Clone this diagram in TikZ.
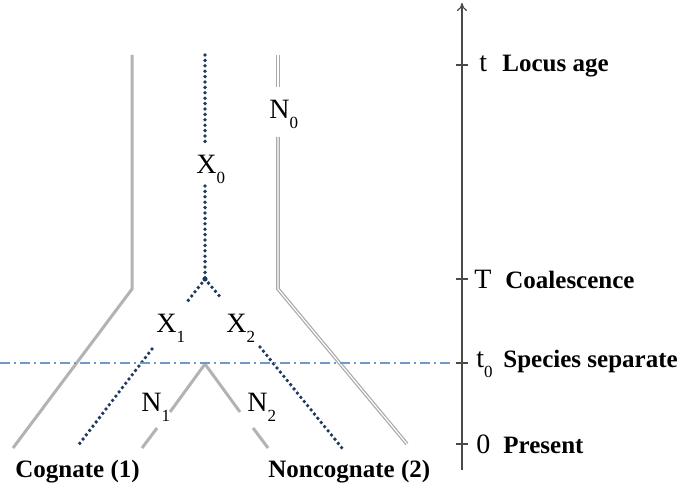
\documentclass[tikz,border=0pt]{standalone}
\usepackage{fontspec}
\setmainfont{Liberation Serif}
\usetikzlibrary{arrows.meta}
\definecolor{lgray}{HTML}{B3B3B3}
\definecolor{dgray}{HTML}{A8A8A8}
\definecolor{dnavy}{HTML}{1F3A60}
\definecolor{dblue}{HTML}{6F98CC}
\definecolor{axgray}{HTML}{4A4A4A}
\newcommand{\sbx}[1]{\raisebox{-5pt}{\fontsize{8.5}{9}\selectfont #1}}
\begin{document}
\begin{tikzpicture}[x=0.5pt,y=-0.5pt,
  gline/.style={draw=lgray,line width=1.5pt,line join=miter},
  dblline/.style={draw=dgray,double=white,double distance=0.6pt,line width=0.6pt},
  dotline/.style={draw=dnavy,line width=1.9pt,dash pattern=on 0pt off 2.7pt,line cap=round},
  sepline/.style={draw=dblue,line width=1.2pt,dash pattern=on 5pt off 2pt on 1pt off 2pt},
  axisline/.style={draw=axgray,line width=0.6pt},
  lab/.style={font=\fontsize{14}{16}\selectfont,inner sep=0pt,anchor=base west},
  blab/.style={font=\fontsize{12.5}{14}\selectfont\bfseries,inner sep=0pt,anchor=base west},
]
\useasboundingbox (0,0) rectangle (680,492);

% coordinates
\coordinate (L0) at (132,55);
\coordinate (L1) at (132,289);
\coordinate (L2) at (13,448);
\coordinate (R0) at (278,55);
\coordinate (R0b) at (278,87);
\coordinate (R1a) at (278,137);
\coordinate (R1) at (278,289);
\coordinate (R2) at (407,444);
\coordinate (C0) at (205,55);
\coordinate (C0b) at (205,142);
\coordinate (C1a) at (205,186);
\coordinate (C1) at (205,279);
\coordinate (XL1) at (187,302);
\coordinate (XL2) at (152,349);
\coordinate (XL3) at (77,447);
\coordinate (XR1) at (222,299);
\coordinate (XR2) at (260,347);
\coordinate (XR3) at (342,448);
\coordinate (NA) at (205,364);
\coordinate (NL1) at (170,412);
\coordinate (NL2) at (157,428);
\coordinate (NL3) at (142,448);
\coordinate (NR1) at (240,412);
\coordinate (NR2) at (253,428);
\coordinate (NR3) at (268,448);
\coordinate (S0) at (0,363);
\coordinate (S1) at (452,363);
\coordinate (A0) at (462,470);
\coordinate (A1) at (462,3);

% lineage lines
\draw[gline] (L0) -- (L1) -- (L2);
\draw[dblline] (R0) -- (R0b);
\draw[dblline] (R1a) -- (R1) -- (R2);
\draw[dotline] (C0) -- (C0b);
\draw[dotline] (C1a) -- (C1);
\draw[dotline] (C1) -- (XL1);
\draw[dotline] (XL2) -- (XL3);
\draw[dotline] (C1) -- (XR1);
\draw[dotline] (XR2) -- (XR3);
\fill[dnavy] (C1) circle (1.3pt);
\draw[gline] (NL1) -- (NA) -- (NR1);
\draw[gline] (NL2) -- (NL3);
\draw[gline] (NR2) -- (NR3);

% species separation line
\draw[sepline] (S0) -- (S1);

% time axis
\draw[axisline,-{To[length=4pt,width=5pt]}] (A0) -- (A1);
\foreach \y/\n in {65/tt,279/tT,363/tz,444/tn} {
  \coordinate (\n a) at (456,\y);
  \coordinate (\n b) at (468,\y);
  \draw[axisline] (\n a) -- (\n b);
}

% lineage labels
\node[lab] (X0) at (196,174) {X\sbx{0}};
\node[lab] (N0) at (269,119) {N\sbx{0}};
\node[lab] (X1) at (156,332) {X\sbx{1}};
\node[lab] (X2) at (226,332) {X\sbx{2}};
\node[lab] (N1) at (141,411) {N\sbx{1}};
\node[lab] (N2) at (247,411) {N\sbx{2}};

% axis labels
\node[lab] (lt) at (479,72) {t};
\node[blab] (lta) at (502,72) {Locus age};
\node[lab] (lT) at (474,288) {T};
\node[blab] (lTa) at (505,288) {Coalescence};
\node[lab] (lz) at (476,367) {t\sbx{0}};
\node[blab] (lza) at (503,367) {Species separate};
\node[lab] (ln) at (476,453) {0};
\node[blab] (lna) at (503,453) {Present};

% bottom labels
\node[blab] (cog) at (15,477) {Cognate (1)};
\node[blab] (ncog) at (268,477) {Noncognate (2)};
\end{tikzpicture}
\end{document}
